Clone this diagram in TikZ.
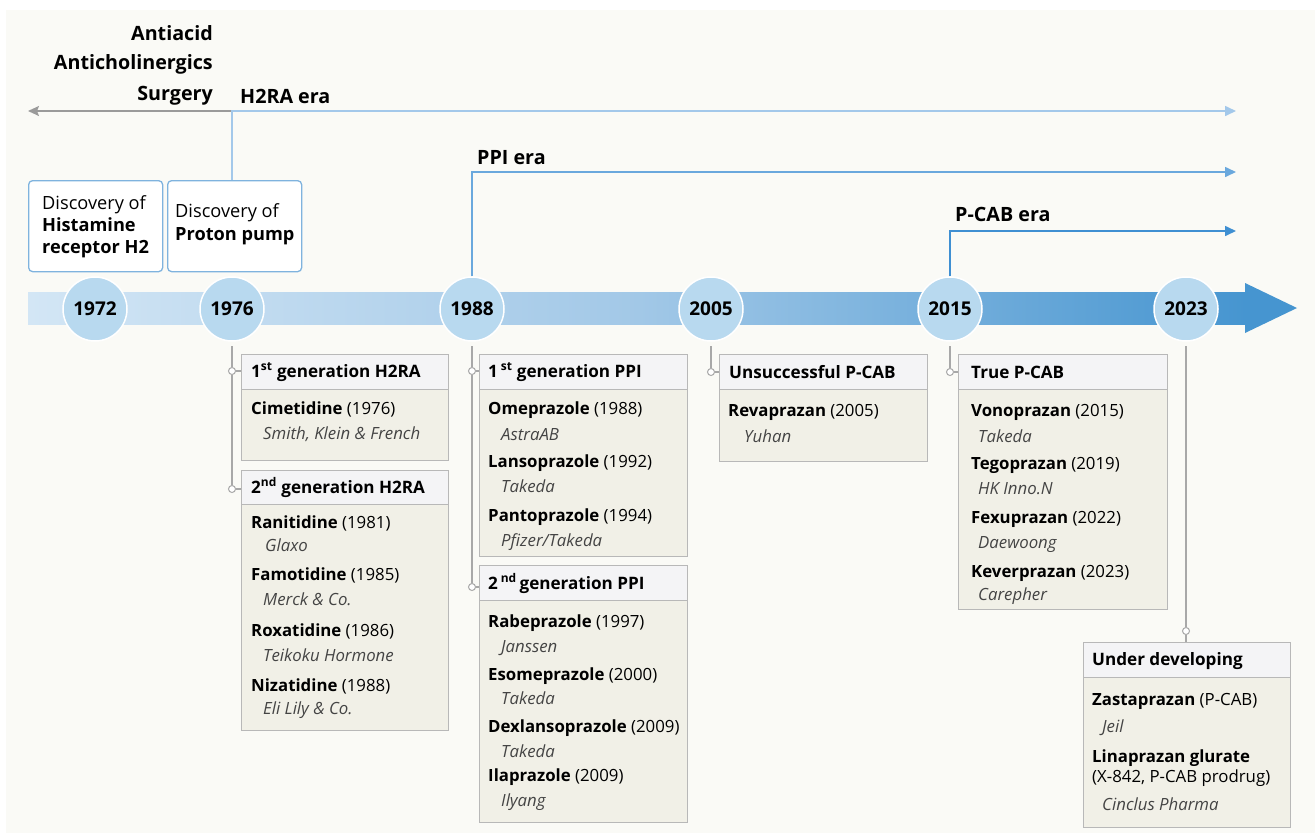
\documentclass[tikz,border=0pt]{standalone}
\usepackage{fontspec}
\setmainfont{Open Sans}
\usetikzlibrary{arrows.meta,calc}
\definecolor{bgc}{HTML}{FAFAF6}
\definecolor{hdrc}{HTML}{F4F4F6}
\definecolor{bodyc}{HTML}{F1F0E7}
\definecolor{boxline}{HTML}{B8B8B8}
\definecolor{yearc}{HTML}{B8D9EF}
\definecolor{bandl}{HTML}{D3E6F5}
\definecolor{bandm}{HTML}{A2C8E7}
\definecolor{bandr}{HTML}{4695D0}
\definecolor{discline}{HTML}{7FB3DE}
\definecolor{h2c}{HTML}{A3C8EA}
\definecolor{ppic}{HTML}{6AA8DD}
\definecolor{pcabc}{HTML}{3F8FD2}
\definecolor{greyc}{HTML}{9A9A9A}
\definecolor{conc}{HTML}{A8A8A8}
\definecolor{itc}{HTML}{444444}
\tikzset{
  year/.style={circle, fill=yearc, draw=white, line width=1.5pt, minimum size=64pt, inner sep=0pt, font=\fontsize{19}{22}\selectfont\bfseries},
  disc/.style={draw=discline, line width=1.3pt, fill=white, rounded corners=4pt, minimum height=91pt, minimum width=134pt, anchor=north west},
  dtxt/.style={anchor=west, inner sep=0pt, text height=13pt, text depth=0pt, font=\fontsize{18.2}{21}\selectfont},
  hdr/.style={draw=boxline, fill=hdrc, line width=0.8pt, anchor=north west, inner sep=0pt},
  bodybox/.style={draw=boxline, fill=bodyc, line width=0.8pt, anchor=north west, inner sep=0pt},
  htxt/.style={anchor=west, inner sep=0pt, text height=12.4pt, text depth=0pt, font=\fontsize{17.1}{20}\selectfont\bfseries},
  btxt/.style={anchor=west, inner sep=0pt, text height=12.2pt, text depth=0pt, font=\fontsize{16.8}{20}\selectfont},
  itxt/.style={anchor=west, inner sep=0pt, text height=12.2pt, text depth=0pt, text=itc, font=\fontsize{16.8}{20}\selectfont\itshape},
  era/.style={anchor=west, inner sep=0pt, font=\fontsize{19.7}{23}\selectfont\bfseries},
  lab/.style={anchor=east, inner sep=0pt, font=\fontsize{19.7}{23}\selectfont\bfseries},
  conn/.style={draw=conc, line width=1.2pt},
  dot/.style={circle, draw=conc, fill=white, line width=1pt, minimum size=7pt, inner sep=0pt},
  eraline/.style={line width=1.6pt, -{Triangle[length=11pt,width=10pt]}},
}
\begin{document}
\begin{tikzpicture}[x=1pt,y=-1pt]
\useasboundingbox (0,0) rectangle (1315,833);
\fill[bgc] (6,10) rectangle (1315,833);

% main timeline band
\shade[left color=bandl, right color=bandm] (28,292) rectangle (640,324);
\shade[left color=bandm, right color=bandr] (639,292) rectangle (1246,324);
\fill[bandr] (1245,283) -- (1297,308) -- (1245,333) -- cycle;

% year circles
\node[year] (y1972) at (95,309) {1972};
\node[year] (y1976) at (232,309) {1976};
\node[year] (y1988) at (472,309) {1988};
\node[year] (y2005) at (711,309) {2005};
\node[year] (y2015) at (950,309) {2015};
\node[year] (y2023) at (1186,309) {2023};

% discovery boxes
\node[disc] (disc1) at (28,180) {};
\node[dtxt] (disc1a) at (42,203) {Discovery of};
\node[dtxt] (disc1b) at (42,225) {\bfseries Histamine};
\node[dtxt] (disc1c) at (42,247) {\bfseries receptor H2};
\node[disc] (disc2) at (167,180) {};
\node[dtxt] (disc2a) at (175,211) {Discovery of};
\node[dtxt] (disc2b) at (175,234) {\bfseries Proton pump};

% left labels
\node[lab] (antiacid) at (213,33) {Antiacid};
\node[lab] (antichol) at (213,64) {Anticholinergics};
\node[lab] (surgery) at (213,96) {Surgery};

% era lines
\coordinate (h2corner) at (232,111);
\coordinate (h2end) at (1236,111);
\coordinate (h2left) at (28,111);
\draw[greyc, line width=1.6pt, -{Stealth[length=11pt,width=10pt,inset=2pt]}] (h2corner) -- (h2left);
\draw[eraline, h2c] (disc2.north -| h2corner) -- (h2corner) -- (h2end);
\node[era] (h2lab) at (240,96) {H2RA era};

\coordinate (ppicorner) at (472,172);
\coordinate (ppiend) at (1236,172);
\draw[eraline, ppic] (y1988.north) -- (ppicorner) -- (ppiend);
\node[era] (ppilab) at (477,158) {PPI era};

\coordinate (pcabcorner) at (950,231);
\coordinate (pcabend) at (1236,231);
\draw[eraline, pcabc] (y2015.north) -- (pcabcorner) -- (pcabend);
\node[era] (pcablab) at (955,214) {P-CAB era};

% ---------- H2RA boxes ----------
\node[hdr, minimum width=207pt, minimum height=35pt] (g1h) at (241,354) {};
\node[bodybox, minimum width=207pt, minimum height=71pt] (g1b) at (241,389) {};
\node[htxt] (g1t) at (251,371) {1\textsuperscript{st} generation H2RA};
\node[btxt] (g1l1) at (251,408) {\textbf{Cimetidine} (1976)};
\node[itxt] (g1l2) at (263,433) {Smith, Klein \& French};

\node[hdr, minimum width=207pt, minimum height=34pt] (g2h) at (241,470) {};
\node[bodybox, minimum width=207pt, minimum height=226pt] (g2b) at (241,504) {};
\node[htxt] (g2t) at (251,487) {2\textsuperscript{nd} generation H2RA};
\node[btxt] (g2l1) at (251,522) {\textbf{Ranitidine} (1981)};
\node[itxt] (g2l2) at (265,545) {Glaxo};
\node[btxt] (g2l3) at (251,574) {\textbf{Famotidine} (1985)};
\node[itxt] (g2l4) at (263,599) {Merck \& Co.};
\node[btxt] (g2l5) at (251,630) {\textbf{Roxatidine} (1986)};
\node[itxt] (g2l6) at (263,655) {Teikoku Hormone};
\node[btxt] (g2l7) at (251,685) {\textbf{Nizatidine} (1988)};
\node[itxt] (g2l8) at (263,708) {Eli Lily \& Co.};

\coordinate (c76top) at (232,346);
\node[dot] (d76a) at (232,371) {};
\node[dot] (d76b) at (232,489) {};
\draw[conn] (c76top) -- (d76a) -- (d76b);
\draw[conn] (d76a) -- (g1h.west |- d76a);
\draw[conn] (d76b) -- (g2h.west |- d76b);

% ---------- PPI boxes ----------
\node[hdr, minimum width=208pt, minimum height=35pt] (p1h) at (479,354) {};
\node[bodybox, minimum width=208pt, minimum height=167pt] (p1b) at (479,389) {};
\node[htxt] (p1t) at (488,371) {1\,\textsuperscript{st} generation PPI};
\node[btxt] (p1l1) at (488,408) {\textbf{Omeprazole} (1988)};
\node[itxt] (p1l2) at (501,434) {AstraAB};
\node[btxt] (p1l3) at (488,461) {\textbf{Lansoprazole} (1992)};
\node[itxt] (p1l4) at (501,486) {Takeda};
\node[btxt] (p1l5) at (488,515) {\textbf{Pantoprazole} (1994)};
\node[itxt] (p1l6) at (501,540) {Pfizer/Takeda};

\node[hdr, minimum width=208pt, minimum height=35pt] (p2h) at (479,565) {};
\node[bodybox, minimum width=208pt, minimum height=222pt] (p2b) at (479,600) {};
\node[htxt] (p2t) at (488,583) {2\,\textsuperscript{nd}\,generation PPI};
\node[btxt] (p2l1) at (488,621) {\textbf{Rabeprazole} (1997)};
\node[itxt] (p2l2) at (501,646) {Janssen};
\node[btxt] (p2l3) at (488,674) {\textbf{Esomeprazole} (2000)};
\node[itxt] (p2l4) at (501,698) {Takeda};
\node[btxt] (p2l5) at (488,726) {\textbf{Dexlansoprazole} (2009)};
\node[itxt] (p2l6) at (501,751) {Takeda};
\node[btxt] (p2l7) at (488,775) {\textbf{Ilaprazole} (2009)};
\node[itxt] (p2l8) at (501,800) {Ilyang};

\coordinate (c88top) at (472,346);
\node[dot] (d88a) at (472,371) {};
\node[dot] (d88b) at (472,587) {};
\draw[conn] (c88top) -- (d88a) -- (d88b);
\draw[conn] (d88a) -- (p1h.west |- d88a);
\draw[conn] (d88b) -- (p2h.west |- d88b);

% ---------- Unsuccessful P-CAB ----------
\node[hdr, minimum width=208pt, minimum height=35pt] (u1h) at (719,354) {};
\node[bodybox, minimum width=208pt, minimum height=72pt] (u1b) at (719,389) {};
\node[htxt] (u1t) at (729,372) {Unsuccessful P-CAB};
\node[btxt] (u1l1) at (728,410) {\textbf{Revaprazan} (2005)};
\node[itxt] (u1l2) at (744,436) {Yuhan};

\coordinate (c05top) at (711,346);
\node[dot] (d05a) at (711,372) {};
\draw[conn] (c05top) -- (d05a);
\draw[conn] (d05a) -- (u1h.west |- d05a);

% ---------- True P-CAB ----------
\node[hdr, minimum width=209pt, minimum height=35pt] (t1h) at (958,354) {};
\node[bodybox, minimum width=209pt, minimum height=220pt] (t1b) at (958,389) {};
\node[htxt] (t1t) at (971,372) {True P-CAB};
\node[btxt] (t1l1) at (971,410) {\textbf{Vonoprazan} (2015)};
\node[itxt] (t1l2) at (978,436) {Takeda};
\node[btxt] (t1l3) at (971,463) {\textbf{Tegoprazan} (2019)};
\node[itxt] (t1l4) at (978,488) {HK Inno.N};
\node[btxt] (t1l5) at (971,517) {\textbf{Fexuprazan} (2022)};
\node[itxt] (t1l6) at (978,542) {Daewoong};
\node[btxt] (t1l7) at (971,571) {\textbf{Keverprazan} (2023)};
\node[itxt] (t1l8) at (978,594) {Carepher};

\coordinate (c15top) at (950,346);
\node[dot] (d15a) at (950,372) {};
\draw[conn] (c15top) -- (d15a);
\draw[conn] (d15a) -- (t1h.west |- d15a);

% ---------- Under developing ----------
\node[hdr, minimum width=207pt, minimum height=35pt] (n1h) at (1083,642) {};
\node[bodybox, minimum width=207pt, minimum height=150pt] (n1b) at (1083,677) {};
\node[htxt] (n1t) at (1092,659) {Under developing};
\node[btxt] (n1l1) at (1092,699) {\textbf{Zastaprazan} (P-CAB)};
\node[itxt] (n1l2) at (1102,726) {Jeil};
\node[btxt] (n1l3) at (1092,756) {\textbf{Linaprazan glurate}};
\node[btxt] (n1l4) at (1092,776) {(X-842, P-CAB prodrug)};
\node[itxt] (n1l5) at (1102,804) {Cinclus Pharma};

\coordinate (c23top) at (1186,346);
\node[dot] (d23a) at (1186,631) {};
\draw[conn] (c23top) -- (d23a);
\draw[conn] (d23a) -- (n1h.north -| d23a);
\end{tikzpicture}
\end{document}
